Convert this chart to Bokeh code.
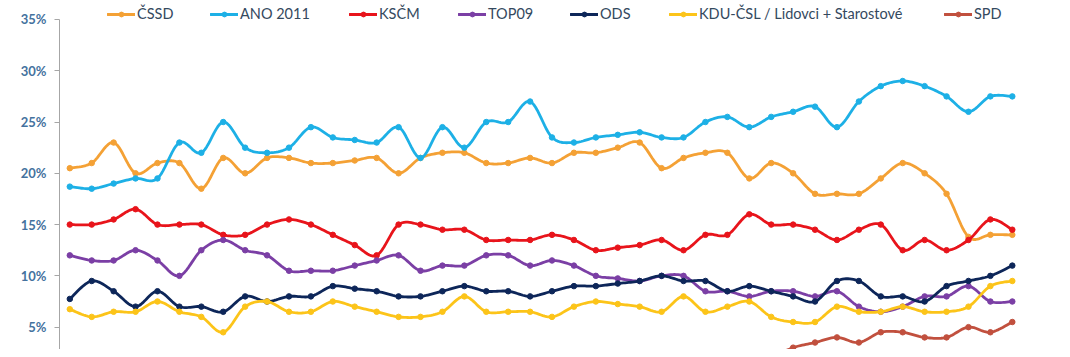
import math
from bokeh.plotting import figure
from bokeh.models import Legend, LegendItem, FixedTicker, Range1d
from bokeh.core.properties import value
from bokeh.embed import file_html
from bokeh.resources import INLINE

# ---- data (percent), one value per poll wave ----
polls = list(range(44))
cssd = [20.5, 21, 23, 20, 21, 21, 18.5, 21.5, 20, 21.5, 21.5, 21, 21, 21.25, 21.5, 20, 21.5, 22, 22, 21,
        21, 21.5, 21, 22, 22, 22.5, 23, 20.5, 21.5, 22, 22, 19.5, 21, 20, 18, 18, 18, 19.5, 21, 20,
        18, 13.8, 14, 14]
ano = [18.7, 18.5, 19, 19.5, 19.5, 23, 22, 25, 22.5, 22, 22.5, 24.5, 23.5, 23.25, 23, 24.5, 21.5, 24.5, 22.5, 25,
       25, 27, 23.5, 23, 23.5, 23.75, 24, 23.5, 23.5, 25, 25.5, 24.5, 25.5, 26, 26.5, 24.5, 27, 28.5, 29, 28.5,
       27.5, 26, 27.5, 27.5]
kscm = [15, 15, 15.5, 16.5, 15, 15, 15, 14, 14, 15, 15.5, 15, 14, 13, 12, 15, 15, 14.5, 14.5, 13.5,
        13.5, 13.5, 14, 13.5, 12.5, 12.75, 13, 13.5, 12.5, 14, 14, 16, 15, 15, 14.5, 13.5, 14.5, 15, 12.5, 13.5,
        12.5, 13.5, 15.5, 14.5]
top09 = [12, 11.5, 11.5, 12.5, 11.5, 10, 12.5, 13.5, 12.5, 12, 10.5, 10.5, 10.5, 11, 11.5, 12, 10.5, 11, 11, 12,
         12, 11, 11.5, 11, 10, 9.75, 9.5, 10, 10, 8.5, 8.5, 8, 8.5, 8.5, 8, 8.5, 7, 6.5, 7, 8,
         8, 9, 7.5, 7.5]
ods = [7.75, 9.5, 8.5, 7, 8.5, 7, 7, 6.5, 8, 7.5, 8, 8, 9, 8.75, 8.5, 8, 8, 8.5, 9, 8.5,
       8.5, 8, 8.5, 9, 9, 9.25, 9.5, 10, 9.5, 9.5, 8.5, 9, 8.5, 8, 7.5, 9.5, 9.5, 8, 8, 7.5,
       9, 9.5, 10, 11]
kdu = [6.75, 6, 6.5, 6.5, 7.5, 6.5, 6, 4.5, 7, 7.5, 6.5, 6.5, 7.5, 7, 6.5, 6, 6, 6.5, 8, 6.5,
       6.5, 6.5, 6, 7, 7.5, 7.25, 7, 6.5, 8, 6.5, 7, 7.5, 6, 5.5, 5.5, 7, 6.5, 6.5, 7, 6.5,
       6.5, 7, 9, 9.5]
spd = [None] * 32 + [2.0, 3.0, 3.5, 4, 3.5, 4.5, 4.5, 4, 4, 5, 4.5, 5.5]

names = ["ČSSD", "ANO 2011", "KSČM", "TOP09", "ODS", "KDU-ČSL / Lidovci + Starostové", "SPD"]
series = [cssd, ano, kscm, top09, ods, kdu, spd]
colors = ["#F4A135", "#1DB0E6", "#E8141B", "#7B3FA5", "#0D2659", "#FCC419", "#C1503E"]
y_ticks = [5, 10, 15, 20, 25, 30, 35]
# legend entry offsets (screen px from the plot frame's left edge)
legend_x = [48, 151, 290, 399, 511, 610, 885]


def smooth(xs, ys, n=12):
    pts = [(x, y) for x, y in zip(xs, ys) if y is not None]
    if len(pts) < 2:
        return [p[0] for p in pts], [p[1] for p in pts]
    ox, oy = [], []
    m = len(pts)
    for i in range(m - 1):
        p0 = pts[i - 1] if i > 0 else pts[i]
        p1 = pts[i]
        p2 = pts[i + 1]
        p3 = pts[i + 2] if i + 2 < m else pts[i + 1]
        c1 = (p1[0] + (p2[0] - p0[0]) / 6, p1[1] + (p2[1] - p0[1]) / 6)
        c2 = (p2[0] - (p3[0] - p1[0]) / 6, p2[1] - (p3[1] - p1[1]) / 6)
        for k in range(n):
            t = k / n
            a = (1 - t) ** 3
            b = 3 * (1 - t) ** 2 * t
            c = 3 * (1 - t) * t ** 2
            d = t ** 3
            ox.append(a * p1[0] + b * c1[0] + c * c2[0] + d * p2[0])
            oy.append(a * p1[1] + b * c1[1] + c * c2[1] + d * p2[1])
    ox.append(pts[-1][0])
    oy.append(pts[-1][1])
    return ox, oy


p = figure(width=1050, height=349, x_range=Range1d(-0.47, 43.83), y_range=Range1d(2.82, 36.85),
           output_backend="svg", toolbar_location=None, x_axis_location=None,
           min_border_left=59, min_border_right=20, min_border_top=0, min_border_bottom=0)
p.outline_line_color = None
p.xgrid.visible = False
p.ygrid.visible = False

ax = p.yaxis[0]
ax.ticker = FixedTicker(ticks=y_ticks)
ax.bounds = (2.82, 35)
ax.major_label_overrides = {t: f"{t}%" for t in y_ticks}
ax.axis_line_color = "#A6A6A6"
ax.major_tick_line_color = "#A6A6A6"
ax.major_tick_out = 5
ax.major_tick_in = 0
ax.minor_tick_line_color = None
ax.major_label_standoff = 8
ax.major_label_text_font = "Lato"
ax.major_label_text_font_size = "13px"
ax.major_label_text_font_style = "bold"
ax.major_label_text_color = "#44729E"

for name, ys, col, lx in zip(names, series, colors, legend_x):
    sx, sy = smooth(polls, ys)
    lr = p.line(sx, sy, line_color=col, line_width=2.8, line_join="round", line_cap="round")
    px = [x for x, y in zip(polls, ys) if y is not None]
    py = [y for y in ys if y is not None]
    sr = p.scatter(px, py, size=5.5, fill_color=col, line_color=col, marker="circle")
    lg = Legend(items=[LegendItem(label=name, renderers=[lr, sr])], orientation="horizontal",
                location=(lx, 327), padding=0, margin=0, spacing=0, glyph_width=28,
                glyph_height=12, label_height=12, label_standoff=2, border_line_color=None,
                background_fill_alpha=0, label_text_font="Lato",
                label_text_font_size="14.5px", label_text_color="#34495E")
    p.add_layout(lg, "center")

open("out.html", "w").write(file_html(p, INLINE))
